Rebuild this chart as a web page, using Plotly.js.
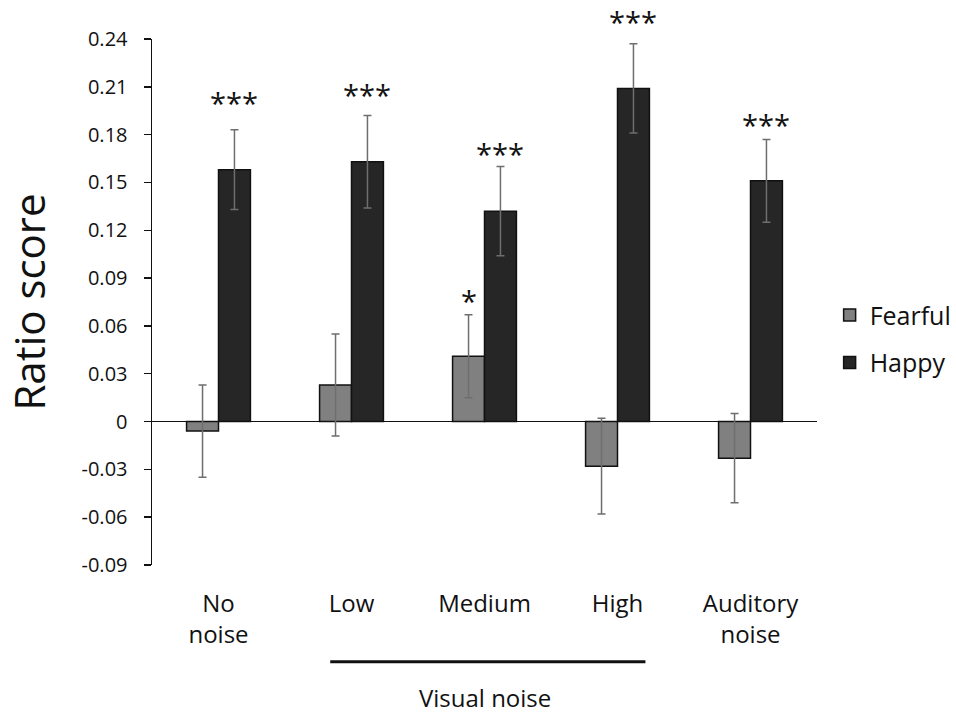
<!DOCTYPE html>
<html><head><meta charset="utf-8">
<script src="https://cdn.plot.ly/plotly-3.0.1.min.js"></script>
<style>html,body{margin:0;padding:0;background:#fff}#chart{width:956px;height:715px}</style>
</head><body><div id="chart"></div>
<script>
const categories = ["No<br>noise", "Low", "Medium", "High", "Auditory<br>noise"];
const fearful = [-0.006, 0.023, 0.041, -0.028, -0.023];
const fearfulErr = [0.029, 0.032, 0.026, 0.030, 0.028];
const happy = [0.158, 0.163, 0.132, 0.209, 0.151];
const happyErr = [0.025, 0.029, 0.028, 0.028, 0.026];
const happyStars = ["***", "***", "***", "***", "***"];
const happyStarY = [0.202, 0.207, 0.170, 0.253, 0.188];
const fearfulStars = ["", "", "*", "", ""];
const fearfulStarY = [null, null, 0.078, null, null];
const yTicks = [-0.09, -0.06, -0.03, 0, 0.03, 0.06, 0.09, 0.12, 0.15, 0.18, 0.21, 0.24];
const yTickText = ["-0.09", "-0.06", "-0.03", "0", "0.03", "0.06", "0.09", "0.12", "0.15", "0.18", "0.21", "0.24"];
const groupLabel = "Visual noise";

const FONT = "Open Sans, Noto Sans, sans-serif";
const Y0 = -0.09, Y1 = 0.24;
const idx = categories.map((_, i) => i);
const toPaper = v => (v - Y0) / (Y1 - Y0);

const errStyle = {type: "data", visible: true, color: "#6e6e6e", thickness: 1.5, width: 4};
const traces = [
  {type: "bar", name: "Fearful", x: idx, y: fearful, legendgroup: "f",
   marker: {color: "#808080", line: {color: "#111", width: 1.5}},
   error_y: Object.assign({array: fearfulErr}, errStyle)},
  {type: "bar", name: "Happy", x: idx, y: happy, legendgroup: "h",
   marker: {color: "#262626", line: {color: "#111", width: 1.5}},
   error_y: Object.assign({array: happyErr}, errStyle)}
];

const annotations = [];
happyStars.forEach((s, i) => {
  if (s) annotations.push({x: i + 0.12, y: toPaper(happyStarY[i]), xref: "x", yref: "paper", text: s, showarrow: false,
    font: {family: FONT, size: 29, color: "#111"}, yanchor: "middle", yshift: -3});
});
fearfulStars.forEach((s, i) => {
  if (s) annotations.push({x: i - 0.12, y: toPaper(fearfulStarY[i]), xref: "x", yref: "paper", text: s, showarrow: false,
    font: {family: FONT, size: 29, color: "#111"}, yanchor: "middle", yshift: -3});
});
annotations.push({x: 2, y: -0.252, xref: "x", yref: "paper", text: groupLabel, showarrow: false,
  font: {family: FONT, size: 24, color: "#111"}, yanchor: "middle"});

const layout = {
  width: 956, height: 715,
  margin: {l: 152, r: 139, t: 39, b: 150, autoexpand: false},
  paper_bgcolor: "#fff", plot_bgcolor: "#fff",
  font: {family: FONT, color: "#111"},
  barmode: "group", bargap: 0.52, bargroupgap: 0,
  showlegend: true,
  legend: {x: 1.019, y: 0.43, xanchor: "left", yanchor: "middle", font: {family: FONT, size: 25, color: "#111"},
    traceorder: "grouped", tracegroupgap: 12, bgcolor: "rgba(0,0,0,0)"},
  xaxis: {
    tickmode: "array", tickvals: idx, ticktext: categories, range: [-0.5, 4.5],
    showline: false, showgrid: false, zeroline: false, ticks: "", automargin: false,
    tickfont: {family: FONT, size: 24, color: "#111"}, ticklabelstandoff: 22
  },
  yaxis: {
    range: [Y0, Y1], tickmode: "array", tickvals: yTicks, ticktext: yTickText, automargin: false,
    showline: true, linecolor: "#111", linewidth: 1.5, ticks: "outside", ticklen: 7, tickcolor: "#111", tickwidth: 1.5,
    showgrid: false, zeroline: true, zerolinecolor: "#111", zerolinewidth: 1.5,
    tickfont: {family: FONT, size: 20, color: "#111"}, ticklabelstandoff: 12,
    title: {text: "Ratio score", font: {family: FONT, size: 42, color: "#111"}, standoff: 28}
  },
  shapes: [{type: "line", xref: "x", yref: "paper", x0: 0.84, x1: 3.21, y0: -0.184, y1: -0.184,
    line: {color: "#111", width: 3}}],
  annotations: annotations
};
Plotly.newPlot("chart", traces, layout, {displayModeBar: false, staticPlot: true});
</script></body></html>
